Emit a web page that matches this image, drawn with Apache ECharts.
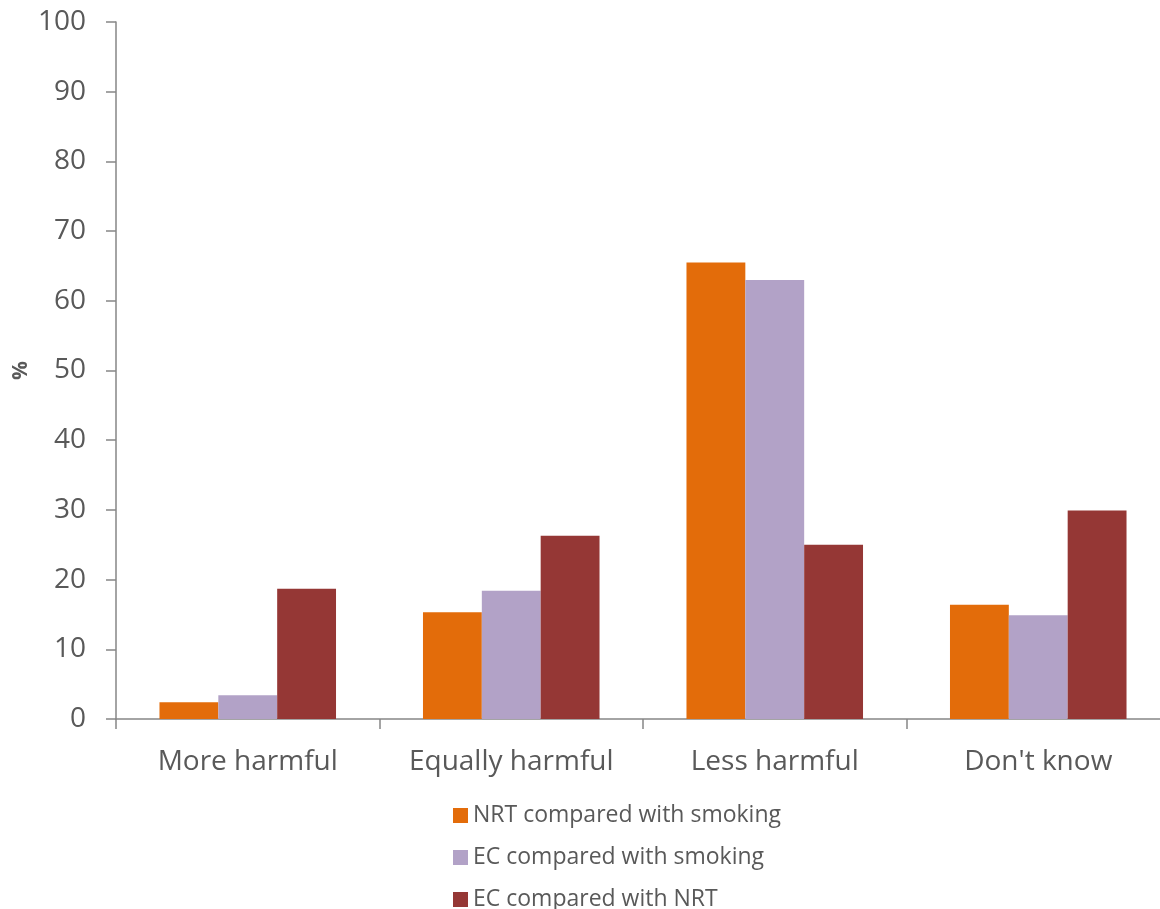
<!DOCTYPE html>
<html>
<head>
<meta charset="utf-8">
<script src="https://cdn.jsdelivr.net/npm/echarts@6/dist/echarts.min.js"></script>
<style>html,body{margin:0;padding:0;background:#fff;}#c{width:1160px;height:909px;}</style>
</head>
<body>
<div id="c"></div>
<script>
const categories = ['More harmful', 'Equally harmful', 'Less harmful', "Don't know"];
const seriesNames = ['NRT compared with smoking', 'EC compared with smoking', 'EC compared with NRT'];
const nrtVsSmoking = [2.4, 15.3, 65.5, 16.4];
const ecVsSmoking = [3.4, 18.4, 63.0, 14.9];
const ecVsNrt = [18.7, 26.3, 25.0, 29.9];
const yTicks = [0, 10, 20, 30, 40, 50, 60, 70, 80, 90, 100];
const colors = ['#E36C0A', '#B2A2C7', '#953735'];

const chart = echarts.init(document.getElementById('c'));
const font = '"Open Sans", sans-serif';
const txt = '#595959';
const axisCol = '#868686';
const legendTops = [804, 846, 888];
chart.setOption({
  animation: false,
  grid: { left: 116, top: 22, bottom: 190, width: 1054, containLabel: false, outerBoundsMode: 'none' },
  legend: seriesNames.map((n, i) => ({
    orient: 'vertical', left: 453, top: legendTops[i], padding: 0, itemWidth: 15, itemHeight: 15,
    icon: 'rect',
    textStyle: { fontFamily: font, fontSize: 23, color: txt },
    data: [n]
  })),
  xAxis: {
    type: 'category', data: categories,
    axisLine: { lineStyle: { color: axisCol, width: 1.5 } },
    axisTick: { show: true, interval: 0, length: 10, lineStyle: { color: axisCol, width: 1.5 } },
    axisLabel: { interval: 0, fontFamily: font, fontSize: 28, color: txt, margin: 29 }
  },
  yAxis: {
    type: 'value', min: yTicks[0], max: yTicks[yTicks.length - 1], interval: 10,
    name: '%', nameLocation: 'middle', nameGap: 84, nameRotate: 90, nameMoveOverlap: false,
    nameTextStyle: { fontFamily: font, fontSize: 21, fontWeight: 'bold', color: txt },
    splitLine: { show: false },
    axisLine: { show: true, lineStyle: { color: axisCol, width: 1.5 } },
    axisTick: { show: true, length: 10, lineStyle: { color: axisCol, width: 1.5 } },
    axisLabel: { fontFamily: font, fontSize: 28, color: txt, margin: 30 }
  },
  series: [
    { name: seriesNames[0], type: 'bar', data: nrtVsSmoking, itemStyle: { color: colors[0] }, barGap: '0%', barCategoryGap: '33%' },
    { name: seriesNames[1], type: 'bar', data: ecVsSmoking, itemStyle: { color: colors[1] }, barGap: '0%', barCategoryGap: '33%' },
    { name: seriesNames[2], type: 'bar', data: ecVsNrt, itemStyle: { color: colors[2] }, barGap: '0%', barCategoryGap: '33%' }
  ]
});
</script>
</body>
</html>
